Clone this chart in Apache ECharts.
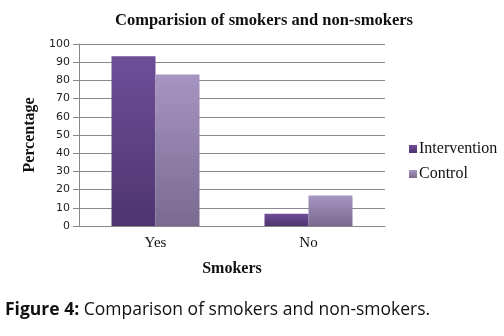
<!DOCTYPE html>
<html><head><meta charset="utf-8">
<script src="https://cdn.jsdelivr.net/npm/echarts@6/dist/echarts.min.js"></script>
<style>html,body{margin:0;padding:0;background:#fff}#c{width:504px;height:336px}</style>
</head><body><div id="c"></div>
<script>
var categories = ['Yes', 'No'];
var intervention = [93.3, 6.7];
var control = [83.3, 16.7];
var yTicks = [0, 10, 20, 30, 40, 50, 60, 70, 80, 90, 100];

var chart = echarts.init(document.getElementById('c'), null, {renderer: 'canvas'});
function grad(top, bottom) {
  return new echarts.graphic.LinearGradient(0, 0, 0, 1, [{offset: 0, color: top}, {offset: 1, color: bottom}]);
}
chart.setOption({
  animation: false,
  title: {
    text: 'Comparision of smokers and non-smokers',
    left: 259, top: 7, textAlign: 'center',
    textStyle: {fontFamily: 'Liberation Serif', fontWeight: 'bold', fontSize: 16.5, color: '#111'}
  },
  legend: {
    orient: 'vertical', left: 404, top: 136, itemGap: 9,
    itemWidth: 8, itemHeight: 8, icon: 'rect',
    textStyle: {fontFamily: 'Liberation Serif', fontSize: 16, color: '#111', padding: [0, 0, 0, -3]},
    data: ['Intervention', 'Control']
  },
  grid: {left: 79, right: 119, top: 44, bottom: 110, containLabel: false},
  xAxis: {
    type: 'category', data: categories,
    name: 'Smokers', nameLocation: 'middle', nameGap: 35,
    nameTextStyle: {fontFamily: 'Liberation Serif', fontWeight: 'bold', fontSize: 16, color: '#111'},
    axisLine: {lineStyle: {color: '#888'}}, axisTick: {show: false},
    axisLabel: {fontFamily: 'Liberation Serif', fontSize: 15, color: '#111', margin: 10}
  },
  yAxis: {
    type: 'value', min: yTicks[0], max: yTicks[yTicks.length - 1], interval: 10,
    name: 'Percentage', nameLocation: 'middle', nameGap: 41, nameRotate: 90,
    nameTextStyle: {fontFamily: 'Liberation Serif', fontWeight: 'bold', fontSize: 16, color: '#111'},
    axisLine: {show: true, lineStyle: {color: '#888'}},
    axisTick: {show: true, length: 6, lineStyle: {color: '#888'}},
    splitLine: {lineStyle: {color: '#8a8a8a'}},
    axisLabel: {fontFamily: 'DejaVu Sans', fontSize: 11, color: '#222', margin: 9}
  },
  series: [
    {name: 'Intervention', type: 'bar', data: intervention, barWidth: 44, barGap: '0%',
     itemStyle: {color: grad('#6F4E99', '#4E3470')}},
    {name: 'Control', type: 'bar', data: control, barWidth: 44,
     itemStyle: {color: grad('#A695C1', '#7A6A90')}}
  ],
  graphic: [{
    type: 'text', left: 5, top: 301,
    style: {
      text: '{b|Figure 4:} Comparison of smokers and non-smokers.',
      fontFamily: 'Open Sans', fontSize: 17.5, fill: '#111',
      rich: {b: {fontFamily: 'Open Sans', fontWeight: 'bold', fontSize: 17.5, fill: '#111'}}
    }
  }]
});
</script></body></html>
